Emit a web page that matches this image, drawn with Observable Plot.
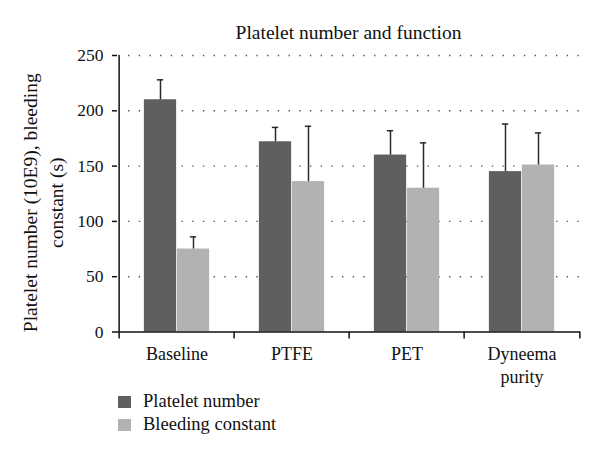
<!DOCTYPE html>
<html>
<head>
<meta charset="utf-8">
<script src="https://cdn.jsdelivr.net/npm/d3@7"></script>
<script src="https://cdn.jsdelivr.net/npm/@observablehq/plot@0.6"></script>
<style>
  html, body { margin: 0; padding: 0; background: #fff; }
  #chart { position: relative; width: 600px; height: 456px; font-family: "Liberation Serif", serif; color: #111; }
  #chart svg { position: absolute; left: 0; top: 0; }
  #title { position: absolute; left: 117px; width: 463px; top: 22px; text-align: center; font-size: 19.5px; line-height: 22px; }
  #legend { position: absolute; left: 118px; top: 390px; font-size: 18.5px; }
  .row { display: flex; align-items: center; height: 23px; }
  .sw { width: 13px; height: 12px; margin-right: 12px; }
</style>
</head>
<body>
<div id="chart">
  <div id="title"></div>
  <div id="legend"></div>
</div>
<script>
const title = "Platelet number and function";
const yLabel = "Platelet number (10E9), bleeding\nconstant (s)";
const categories = ["Baseline", "PTFE", "PET", "Dyneema purity"];
const seriesNames = ["Platelet number", "Bleeding constant"];
const seriesColors = ["#5f5f5f", "#b2b2b2"];
const plateletNumber = [210, 172, 160, 145];
const plateletErr = [18, 13, 22, 43];
const bleedingConstant = [75, 136, 130, 151];
const bleedingErr = [11, 50, 41, 29];
const yTicks = [0, 50, 100, 150, 200, 250];

const W = 600, H = 456, mL = 117, mR = 20, mT = 55, mB = 124.5;
const step = (W - mL - mR) / categories.length;
const barW = 33;
const offsets = [-barW / 2, barW / 2];
const capW = 7;

const rows = [];
categories.forEach((c, i) => {
  rows.push({cat: c, series: seriesNames[0], s: 0, value: plateletNumber[i], hi: plateletNumber[i] + plateletErr[i]});
  rows.push({cat: c, series: seriesNames[1], s: 1, value: bleedingConstant[i], hi: bleedingConstant[i] + bleedingErr[i]});
});

const marks = [
  Plot.ruleY(yTicks.filter(v => v > 0), {stroke: "#555", strokeWidth: 1.4, strokeDasharray: "1.4 9.3", insetLeft: 11})
];
seriesNames.forEach((name, s) => {
  const d = rows.filter(r => r.s === s);
  const off = offsets[s];
  marks.push(Plot.barY(d, {x: "cat", y: "value", fill: seriesColors[s],
    insetLeft: step / 2 + off - barW / 2, insetRight: step / 2 - off - barW / 2}));
  marks.push(Plot.ruleX(d, {x: "cat", y1: "value", y2: "hi", dx: off, stroke: "#2a2a2a", strokeWidth: 1.5}));
  marks.push(Plot.tickY(d, {x: "cat", y: "hi", stroke: "#2a2a2a", strokeWidth: 1.5,
    insetLeft: step / 2 + off - capW / 2, insetRight: step / 2 - off - capW / 2}));
});
marks.push(
  Plot.ruleY([0], {stroke: "#111", strokeWidth: 1.5}),
  Plot.ruleX([categories[0]], {x: d => d, y1: 0, y2: yTicks[yTicks.length - 1], dx: -step / 2, stroke: "#111", strokeWidth: 1.5}),
  Plot.ruleX(categories, {x: d => d, y1: 0, y2: 0, insetBottom: -7, dx: -step / 2, stroke: "#111", strokeWidth: 1.5}),
  Plot.ruleX([categories[categories.length - 1]], {x: d => d, y1: 0, y2: 0, insetBottom: -7, dx: step / 2, stroke: "#111", strokeWidth: 1.5}),
  Plot.axisY({ticks: yTicks, tickSize: 5, tickPadding: 9, label: null, fontSize: 17.5, stroke: "#111", strokeWidth: 1.5}),
  Plot.axisX({tickSize: 0, tickPadding: 11, label: null, fontSize: 18, lineHeight: 1.3, tickFormat: d => d.replace(" ", "\n")}),
  Plot.text([yLabel], {text: d => d, frameAnchor: "left", textAnchor: "middle", lineAnchor: "middle", rotate: -90, dx: -76, dy: 9, fontSize: 19.5, lineHeight: 1.35, fill: "#111"})
);

const plot = Plot.plot({
  width: W, height: H,
  marginLeft: mL, marginRight: mR, marginTop: mT, marginBottom: mB,
  style: {fontFamily: "'Liberation Serif', serif", fontSize: "17px", color: "#111", background: "transparent"},
  x: {domain: categories, padding: 0, axis: null},
  y: {domain: [0, 250], axis: null},
  marks
});
document.getElementById("chart").prepend(plot);
document.getElementById("title").textContent = title;
const legend = document.getElementById("legend");
seriesNames.forEach((name, s) => {
  const row = document.createElement("div");
  row.className = "row";
  const sw = document.createElement("div");
  sw.className = "sw";
  sw.style.background = seriesColors[s];
  const t = document.createElement("span");
  t.textContent = name;
  row.append(sw, t);
  legend.append(row);
});
</script>
</body>
</html>
